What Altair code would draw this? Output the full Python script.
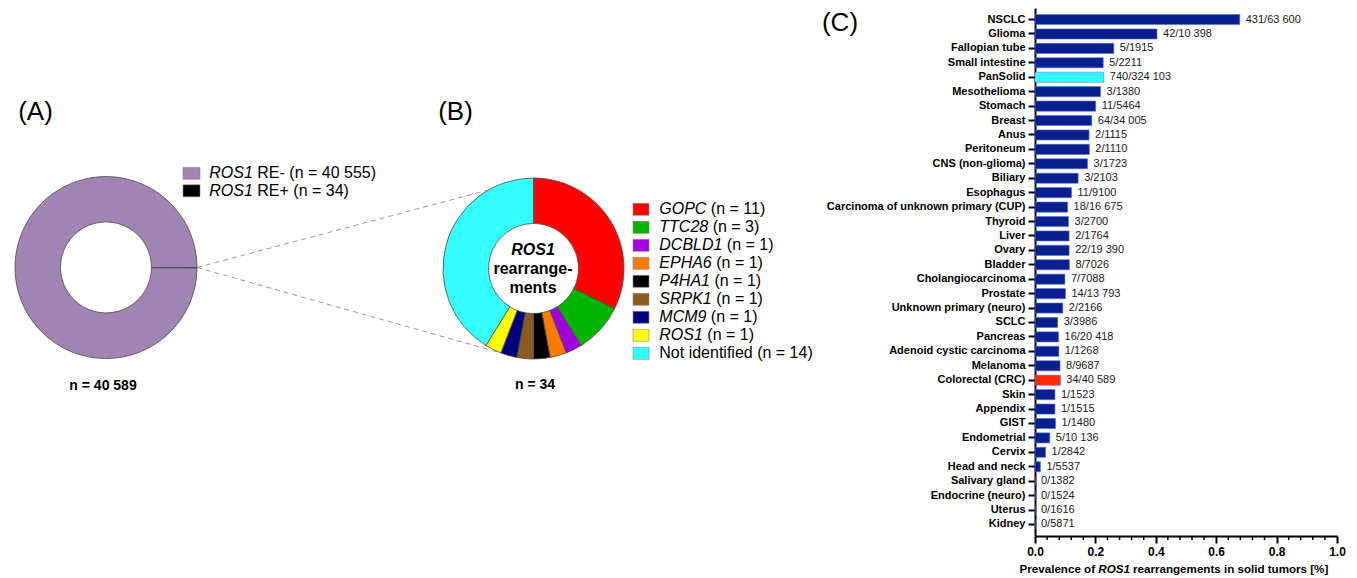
import math
import altair as alt
import pandas as pd

# ------------------------------------------------------------------ data
# Panel A
a_labels = ["ROS1 RE+", "ROS1 RE-"]
a_counts = [34, 40555]
a_colors = ["#000000", "#a084b4"]
a_legend_italic = ["ROS1", "ROS1"]
a_legend_rest = ["RE- (n = 40 555)", "RE+ (n = 34)"]
a_legend_colors = ["#a084b4", "#000000"]
a_total = "n = 40 589"

# Panel B
b_genes = ["GOPC", "TTC28", "DCBLD1", "EPHA6", "P4HA1", "SRPK1", "MCM9", "ROS1", "Not identified"]
b_counts = [11, 3, 1, 1, 1, 1, 1, 1, 14]
b_colors = ["#ff0000", "#00b400", "#a000dc", "#ff7a00", "#000000", "#8b5a1e", "#00007a", "#ffff00", "#33ffff"]
b_total = "n = 34"

# Panel C
c_tumors = ["NSCLC", "Glioma", "Fallopian tube", "Small intestine", "PanSolid", "Mesothelioma",
            "Stomach", "Breast", "Anus", "Peritoneum", "CNS (non-glioma)", "Biliary", "Esophagus",
            "Carcinoma of unknown primary (CUP)", "Thyroid", "Liver", "Ovary", "Bladder",
            "Cholangiocarcinoma", "Prostate", "Unknown primary (neuro)", "SCLC", "Pancreas",
            "Adenoid cystic carcinoma", "Melanoma", "Colorectal (CRC)", "Skin", "Appendix", "GIST",
            "Endometrial", "Cervix", "Head and neck", "Salivary gland", "Endocrine (neuro)",
            "Uterus", "Kidney"]
c_prev = [0.678, 0.404, 0.261, 0.226, 0.228, 0.217, 0.201, 0.188, 0.179, 0.180, 0.174, 0.143,
          0.121, 0.108, 0.111, 0.113, 0.113, 0.114, 0.099, 0.101, 0.092, 0.075, 0.078, 0.079,
          0.083, 0.084, 0.066, 0.066, 0.068, 0.049, 0.035, 0.018, 0.0, 0.0, 0.0, 0.0]
c_ratio = ["431/63 600", "42/10 398", "5/1915", "5/2211", "740/324 103", "3/1380", "11/5464",
           "64/34 005", "2/1115", "2/1110", "3/1723", "3/2103", "11/9100", "18/16 675", "3/2700",
           "2/1764", "22/19 390", "8/7026", "7/7088", "14/13 793", "2/2166", "3/3986", "16/20 418",
           "1/1268", "8/9687", "34/40 589", "1/1523", "1/1515", "1/1480", "5/10 136", "1/2842",
           "1/5537", "0/1382", "0/1524", "0/1616", "0/5871"]
c_group = ["tumor"] * len(c_tumors)
c_group[c_tumors.index("PanSolid")] = "pansolid"
c_group[c_tumors.index("Colorectal (CRC)")] = "crc"
c_group_domain = ["tumor", "pansolid", "crc"]
c_group_colors = ["#0a1f8f", "#33ffff", "#ff2a00"]
x_ticks = [0.0, 0.2, 0.4, 0.6, 0.8, 1.0]

# ------------------------------------------------------------------ helpers
FONT = "Liberation Sans"
REG = {**{c: w for c, w in zip("ABCDEFGHIJKLMNOPQRSTUVWXYZ",
                                [.667, .667, .722, .722, .667, .611, .778, .722, .278, .5, .667, .556, .833,
                                 .722, .778, .667, .778, .722, .667, .611, .722, .667, .944, .667, .667, .611])},
       **{d: .556 for d in "0123456789"}, " ": .278}
BOLD = {**{c: w for c, w in zip("ABCDEFGHIJKLMNOPQRSTUVWXYZ",
                                 [.722, .722, .722, .722, .667, .611, .778, .722, .278, .556, .722, .611, .833,
                                  .722, .778, .667, .778, .722, .667, .611, .722, .667, .944, .667, .667, .611])},
        **{c: w for c, w in zip("abcdefghijklmnopqrstuvwxyz",
                                 [.556, .611, .556, .611, .556, .333, .611, .611, .278, .278, .556, .278, .889,
                                  .611, .611, .611, .611, .389, .556, .333, .611, .556, .778, .556, .556, .5])},
        **{d: .556 for d in "0123456789"}, " ": .278, "[": .333, "]": .333, "%": .889}


def tw(s, size, bold=False):
    t = BOLD if bold else REG
    return sum(t.get(c, .556) for c in s) * size


def text_layer(rows, style="normal", weight="normal", align="left"):
    df = pd.DataFrame(rows, columns=["t", "x", "y", "s"])
    return alt.Chart(df).mark_text(font=FONT, fontStyle=style, fontWeight=weight, align=align,
                                   baseline="middle", color="black").encode(
        x=alt.X("x:Q", scale=None), y=alt.Y("y:Q", scale=None),
        text=alt.Text("t:N"), size=alt.Size("s:Q", scale=None))


# ------------------------------------------------------------------ left view (A + B)
LW, H = 1027, 528
cxA, cyA, RA, rA = 98, 259.5, 91, 45.5
cxB, cyB, RB, rB = 525.5, 260.5, 90.5, 45

dfA = pd.DataFrame({"label": a_labels, "count": a_counts, "color": a_colors, "o": range(len(a_labels))})
arcA = alt.Chart(dfA).mark_arc(outerRadius=RA, innerRadius=rA, stroke="#4d4d4d", strokeWidth=0.8).encode(
    theta=alt.Theta("count:Q", stack=True, scale=alt.Scale(range=[math.pi / 2, math.pi / 2 + 2 * math.pi])),
    order=alt.Order("o:Q"), fill=alt.Fill("color:N", scale=None),
    x=alt.value(cxA), y=alt.value(cyA))

dfB = pd.DataFrame({"gene": b_genes, "count": b_counts, "color": b_colors, "o": range(len(b_genes))})
arcB = alt.Chart(dfB).mark_arc(outerRadius=RB, innerRadius=rB, stroke="#4d4d4d", strokeWidth=0.8).encode(
    theta=alt.Theta("count:Q", stack=True),
    order=alt.Order("o:Q"), fill=alt.Fill("color:N", scale=None),
    x=alt.value(cxB), y=alt.value(cyB))

# dashed zoom lines: from the RE+ slice of A to the outer edge of B
ang = 2 * math.pi * sum(b_counts[:7]) / sum(b_counts)
lines = pd.DataFrame({
    "x": [cxA + RA, cxA + RA], "y": [cyA, cyA],
    "x2": [cxB, cxB + RB * math.sin(ang)], "y2": [cyB - RB, cyB - RB * math.cos(ang)]})
dash = alt.Chart(lines).mark_rule(color="#9a9a9a", strokeDash=[5, 4], strokeWidth=1).encode(
    x=alt.X("x:Q", scale=None), y=alt.Y("y:Q", scale=None), x2="x2:Q", y2="y2:Q")

# legend swatches
LFS = 16
sw_rows = []
for i, col in enumerate(a_legend_colors):
    yc = 165.3 + 17.5 * i
    sw_rows.append((175, 192, yc - 6, yc + 6, col))
for i, col in enumerate(b_colors):
    yc = 201.3 + 18.0 * i
    sw_rows.append((625, 641, yc - 6, yc + 6, col))
sw = pd.DataFrame(sw_rows, columns=["x", "x2", "y", "y2", "c"])
swatch = alt.Chart(sw).mark_rect(stroke="#888888", strokeWidth=0.6).encode(
    x=alt.X("x:Q", scale=None), x2="x2:Q", y=alt.Y("y:Q", scale=None), y2="y2:Q",
    fill=alt.Fill("c:N", scale=None))

italic_rows, normal_rows = [], []
for i, (it, rest) in enumerate(zip(a_legend_italic, a_legend_rest)):
    yc = 165.3 + 17.5 * i
    italic_rows.append((it, 201.3, yc, LFS))
    normal_rows.append((rest, 201.3 + tw(it, LFS) + tw(" ", LFS), yc, LFS))
for i, (g, n) in enumerate(zip(b_genes, b_counts)):
    yc = 201.3 + 18.0 * i
    if g == "Not identified":
        normal_rows.append((f"{g} (n = {n})", 651.3, yc, LFS))
    else:
        italic_rows.append((g, 651.3, yc, LFS))
        normal_rows.append((f"(n = {n})", 651.3 + tw(g, LFS) + tw(" ", LFS), yc, LFS))

panel_rows = [("(A)", 27.5, 104, 26), ("(B)", 447.5, 104, 26), ("(C)", 832, 15, 26)]
bold_rows = [(a_total, cxA - 3, 378, 14), (b_total, cxB + 1.5, 377, 14),
             ("rearrange-", cxB - 0.5, 261, 16), ("ments", cxB - 0.5, 280, 16)]
bold_italic_rows = [("ROS1", cxB - 0.5, 242, 16)]

left = alt.layer(
    dash, arcA, arcB, swatch,
    text_layer(normal_rows),
    text_layer(italic_rows, style="italic"),
    text_layer(panel_rows, align="center"),
    text_layer(bold_rows, weight="bold", align="center"),
    text_layer(bold_italic_rows, style="italic", weight="bold", align="center"),
).resolve_scale(theta="independent").properties(width=LW, height=H)

# ------------------------------------------------------------------ right view (C)
CW = 302
dfc = pd.DataFrame({"tumor": c_tumors, "prev": c_prev, "ratio": c_ratio, "group": c_group})
yenc = alt.Y("tumor:N", sort=c_tumors,
             scale=alt.Scale(paddingInner=0.3, paddingOuter=0.45),
             axis=alt.Axis(title=None, labelFont=FONT, labelFontWeight="bold", labelFontSize=11,
                           labelColor="black", tickSize=7, tickWidth=2, tickColor="black",
                           domainWidth=2, domainColor="black", labelPadding=3, labelLimit=400))
xenc = alt.X("prev:Q", scale=alt.Scale(domain=[0, 1], nice=False),
             axis=alt.Axis(values=x_ticks, format=".1f", title=None, grid=False, labelFont=FONT,
                           labelFontWeight="bold", labelFontSize=12, labelColor="black",
                           tickSize=7, tickWidth=2, tickColor="black", domainWidth=2,
                           domainColor="black", labelPadding=3, labelFlush=False))

bars = alt.Chart(dfc).mark_bar(stroke="#5b6fd6", strokeWidth=0.6).encode(
    y=yenc, x=xenc,
    color=alt.Color("group:N", scale=alt.Scale(domain=c_group_domain, range=c_group_colors), legend=None))
vals = alt.Chart(dfc).mark_text(align="left", baseline="middle", dx=6, font=FONT, fontSize=11,
                                color="#1a1a1a").encode(y=alt.Y("tumor:N", sort=c_tumors),
                                                        x="prev:Q", text="ratio:N")

minor = pd.DataFrame({"v": [round(i * 0.04, 2) for i in range(1, 25) if i % 5 != 0]})
minor_ticks = alt.Chart(minor).mark_rule(color="black", strokeWidth=1.5).encode(
    x="v:Q", y=alt.value(H), y2=alt.value(H + 4))

TFS = 11.6
seg1, seg2, seg3 = "Prevalence of", "ROS1", "rearrangements in solid tumors [%]"
sp = tw(" ", TFS, True)
w1, w2, w3 = tw(seg1, TFS, True), tw(seg2, TFS, True), tw(seg3, TFS, True)
start = 139 - (w1 + w2 + w3 + 2 * sp) / 2
title_rows = [(seg1, start, H + 34, TFS), (seg3, start + w1 + sp + w2 + sp, H + 34, TFS)]
title_it = [(seg2, start + w1 + sp, H + 34, TFS)]


def title_layer(rows, style):
    layers = []
    for (t, x, y, s) in rows:
        layers.append(alt.Chart(pd.DataFrame({"t": [t]})).mark_text(
            font=FONT, fontWeight="bold", fontStyle=style, fontSize=s, align="left",
            baseline="middle", color="black").encode(
            x=alt.value(x), y=alt.value(y), text="t:N"))
    return layers


right = alt.layer(bars, vals, minor_ticks, *title_layer(title_rows, "normal"),
                  *title_layer(title_it, "italic")).properties(width=CW, height=H)

chart = alt.hconcat(left, right, spacing=0, bounds="flush", padding=0).configure(
    font=FONT).configure_view(strokeWidth=0, stroke=None)

chart.save("out.html", embed_options={"renderer": "svg", "actions": False})
